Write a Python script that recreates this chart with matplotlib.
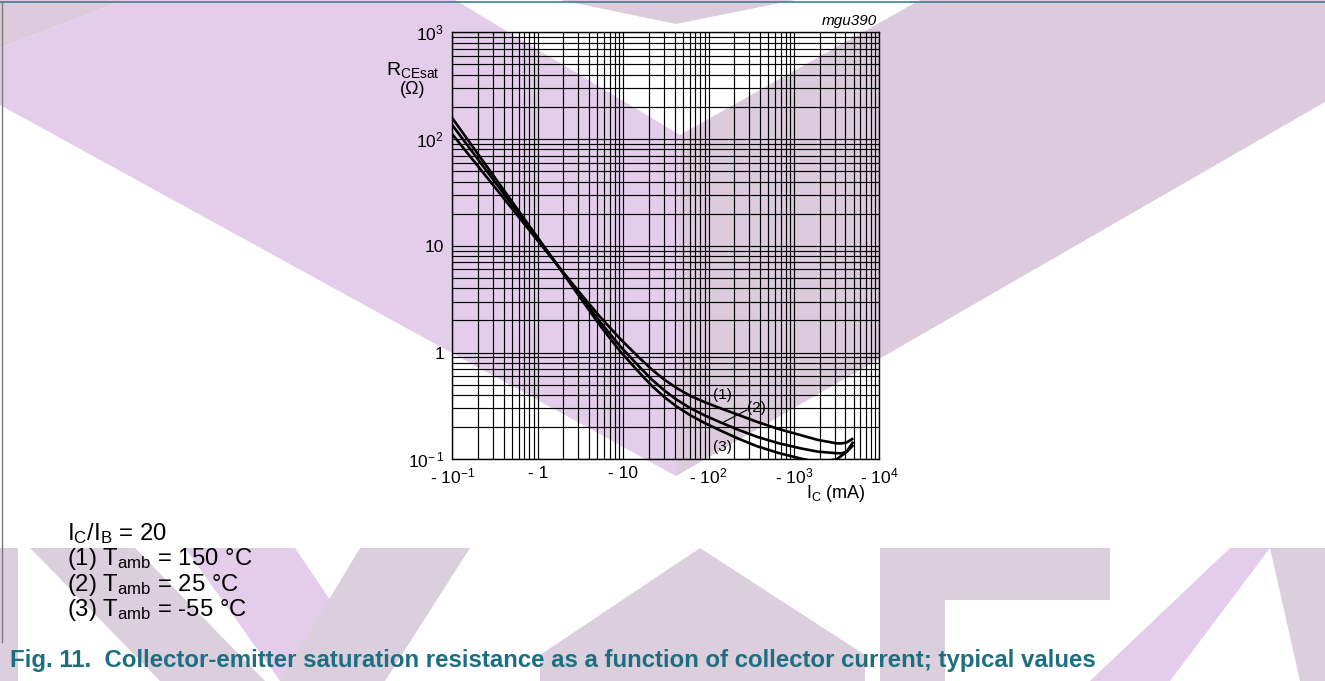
import numpy as np
import matplotlib
matplotlib.use("Agg")
import matplotlib.pyplot as plt
from matplotlib.patches import Polygon
from matplotlib.lines import Line2D
from matplotlib.ticker import LogLocator, NullFormatter, FixedLocator

plt.rcParams['font.family'] = ['Liberation Sans', 'DejaVu Sans']
plt.rcParams['mathtext.fontset'] = 'custom'
plt.rcParams['mathtext.rm'] = 'Liberation Sans'
plt.rcParams['mathtext.it'] = 'Liberation Sans:italic'
plt.rcParams['mathtext.bf'] = 'Liberation Sans:bold'

# ---------------- data ----------------
ic_ma = [0.1, 1.7, 3.1, 5.4, 9.2, 16, 22, 31, 43, 61, 91, 136, 220, 366,
         650, 1180, 1900, 3170, 3660, 4150, 4960]
r_150 = [111, 6.6, 3.64, 2.15, 1.35, 0.871, 0.687, 0.551, 0.461, 0.394, 0.342,
         0.302, 0.262, 0.225, 0.193, 0.169, 0.152, 0.141, 0.141, 0.144, 0.157]
r_25 = [135, 6.6, 3.46, 1.93, 1.15, 0.716, 0.553, 0.436, 0.359, 0.302, 0.257,
        0.223, 0.190, 0.163, 0.142, 0.127, 0.118, 0.114, 0.114, 0.118, 0.146]
r_m55 = [157, 6.6, 3.32, 1.78, 1.03, 0.630, 0.483, 0.378, 0.310, 0.259, 0.218,
         0.187, 0.157, 0.133, 0.115, 0.102, 0.094, 0.100, 0.109, 0.117, 0.136]

x_ticks = [0.1, 1, 10, 100, 1000, 10000]
x_ticklabels = [r'- 10$^{-1}$', '- 1', '- 10', r'- 10$^{2}$', r'- 10$^{3}$', r'- 10$^{4}$']
y_ticks = [0.1, 1, 10, 100, 1000]
y_ticklabels = [r'10$^{-\,1}$', '1', '10', r'10$^{2}$', r'10$^{3}$']

curve_labels = ['(1)', '(2)', '(3)']
curve_label_pos = [(144, 0.396), (360, 0.305), (144, 0.129)]
notes = [r'I$_{\rm C}$/I$_{\rm B}$ = 20',
         r'(1) T$_{\rm amb}$ = 150 °C',
         r'(2) T$_{\rm amb}$ = 25 °C',
         r'(3) T$_{\rm amb}$ = -55 °C']
caption = ('Fig. 11.  Collector-emitter saturation resistance as a function '
           'of collector current; typical values')

# ---------------- figure ----------------
W, H = 1325, 681
fig = plt.figure(figsize=(W / 100, H / 100), dpi=100)
fig.patch.set_facecolor('white')


def P(pts):
    return [(x / W, 1 - y / H) for x, y in pts]


purple = '#e3cdea'
mauve = '#dbcbdc'
mauve2 = '#dccfdd'
shapes = [
    ([(0, 0), (125, 0), (0, 48)], mauve),
    ([(0, 48), (125, 0), (455, 0), (680, 135), (676, 476), (0, 105)], purple),
    ([(680, 135), (920, 0), (1325, 0), (1325, 102), (676, 476)], mauve),
    ([(560, 0), (795, 0), (676, 24)], mauve),
    # bottom watermark
    ([(0, 548), (18, 548), (18, 681), (0, 681)], mauve2),
    ([(30, 548), (135, 548), (265, 681), (160, 681)], mauve2),
    ([(185, 548), (295, 548), (385, 681), (280, 681)], purple),
    ([(360, 548), (470, 548), (385, 681), (280, 681)], mauve2),
    ([(700, 548), (865, 655), (865, 681), (540, 681), (540, 655)], mauve2),
    ([(880, 548), (1110, 548), (1110, 600), (945, 600), (945, 681), (880, 681)], mauve2),
    ([(1230, 548), (1270, 548), (1170, 681), (1090, 681)], purple),
    ([(1270, 548), (1325, 548), (1325, 681), (1300, 681)], mauve2),
]
for pts, col in shapes:
    fig.add_artist(Polygon(P(pts), closed=True, transform=fig.transFigure,
                           facecolor=col, edgecolor='none', zorder=-10))

# frame lines
fig.add_artist(Line2D([0, 1], [1 - 2 / H, 1 - 2 / H], transform=fig.transFigure,
                      color='#3d8090', lw=1.2, zorder=-5))
fig.add_artist(Line2D([1.5 / W, 1.5 / W], [1 - 2 / H, 1 - 642 / H],
                      transform=fig.transFigure, color='#7a7a7a', lw=1.0, zorder=-5))

# axes
ax_l, ax_r, ax_t, ax_b = 452.3, 879.3, 32.3, 459.3
ax = fig.add_axes([ax_l / W, 1 - ax_b / H, (ax_r - ax_l) / W, (ax_b - ax_t) / H])
ax.set_zorder(5)
ax.patch.set_alpha(0)
ax.set_xscale('log')
ax.set_yscale('log')
ax.set_xlim(0.1, 10000)
ax.set_ylim(0.1, 1000)

ax.xaxis.set_major_locator(FixedLocator(x_ticks))
ax.yaxis.set_major_locator(FixedLocator(y_ticks))
ax.xaxis.set_minor_locator(LogLocator(base=10, subs=np.arange(2, 10)))
ax.yaxis.set_minor_locator(LogLocator(base=10, subs=np.arange(2, 10)))
ax.xaxis.set_minor_formatter(NullFormatter())
ax.yaxis.set_minor_formatter(NullFormatter())
ax.set_xticklabels(x_ticklabels)
ax.set_yticklabels(y_ticklabels)
ax.tick_params(which='both', length=0, labelsize=12.5, colors='black')
ax.tick_params(axis='x', pad=5)
ax.tick_params(axis='y', pad=6)
ax.get_yticklabels()[0].set_y(0.105)
ax.grid(True, which='both', color='black', lw=0.85)
for s in ax.spines.values():
    s.set_linewidth(1.0)
    s.set_color('black')

for r in (r_150, r_25, r_m55):
    ax.plot(ic_ma, r, color='black', lw=1.9, solid_capstyle='butt',
            solid_joinstyle='round', zorder=3)

for lab, (xx, yy) in zip(curve_labels, curve_label_pos):
    ax.text(xx, yy, lab, fontsize=11, ha='center', va='center', zorder=4)
ax.plot([144, 282], [0.219, 0.290], color='black', lw=0.8, zorder=3)

# axis titles
fig.text(413 / W, 1 - 70 / H, r'R$_{\rm CEsat}$', fontsize=14, ha='center', va='center')
fig.text(413 / W, 1 - 90 / H, '(Ω)', fontsize=13, ha='center', va='center')
fig.text(836 / W, 1 - 494 / H, r'I$_{\rm C}$ (mA)', fontsize=13, ha='center', va='center')
fig.text(877 / W, 1 - 21 / H, 'mgu390', fontsize=11, style='italic', ha='right', va='center')

# notes
for i, t in enumerate(notes):
    fig.text(67 / W, 1 - (534 + 25.3 * i) / H, t, fontsize=17.2, ha='left', va='center')

fig.text(10 / W, 1 - 661 / H, caption, fontsize=17.3, fontweight='bold',
         color='#1d6f80', ha='left', va='center')

fig.savefig('out.png', dpi=100)
